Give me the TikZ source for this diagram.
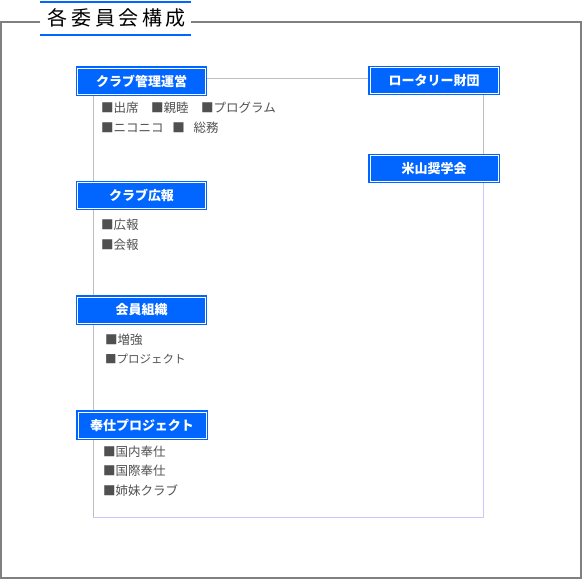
\documentclass[tikz,border=0pt]{standalone}
\usepackage{fontspec}
\newfontfamily\jpfont{Noto Sans CJK JP}
\usetikzlibrary{calc}
\definecolor{kaiblue}{RGB}{0,102,255}
\definecolor{waku}{RGB}{128,128,128}
\definecolor{senhai}{RGB}{190,190,190}
\definecolor{senmura}{RGB}{200,200,250}
\definecolor{moji}{RGB}{80,80,80}
\tikzset{
  iinkai/.style={draw=kaiblue,double=white,double distance=0.9pt,line width=1.1pt,
    fill=kaiblue,minimum width=128pt,minimum height=26pt,inner sep=0pt,
    text=white,font=\jpfont\bfseries\fontsize{13}{15}\selectfont},
  koumoku/.style={anchor=west,inner sep=0pt,text=moji,font=\jpfont\fontsize{12.5}{14}\selectfont}
}
\begin{document}
\begin{tikzpicture}[x=1pt,y=-1pt]
            \useasboundingbox(0,0)rectangle(582,579);
            %外枠
            \coordinate(W1)at(40,22);
            \coordinate(W2)at(191,22);
            \path[draw=waku,line width=1.4pt](W1)to(1,22)to(1,578)to(581,578)to(581,22)to(W2);
            %見出し
            \node[font=\jpfont\fontsize{20}{22}\selectfont\addfontfeature{LetterSpace=18},inner sep=0pt](midashi)at(117,18){各委員会構成};
            \path[draw=kaiblue,line width=2pt](40,1.5)to(191,1.5);
            \path[draw=kaiblue,line width=2pt](40,34.5)to(191,34.5);
            %内側の線
            \coordinate(L1)at(93,95);
            \coordinate(L2)at(93,517);
            \coordinate(R1)at(483,517);
            \coordinate(R2)at(483,183);
            \coordinate(R3)at(483,95);
            \path[draw=senhai,line width=1pt](206,78)to(369,78);
            \path[draw=senhai,line width=1pt](L1)to(L2);
            \path[draw=senmura,line width=1pt](L2)to(R1)to(R2);
            \path[draw=senhai,line width=1pt](R3)to(483,154);
            %委員会
            \node[iinkai](kanri)at(141.5,81){クラブ管理運営};
            \node[iinkai](zaidan)at(434,80.5){ロータリー財団};
            \node[iinkai](yoneyama)at(434,168.5){米山奨学会};
            \node[iinkai](kouhou)at(141.5,195.5){クラブ広報};
            \node[iinkai](soshiki)at(141.5,310){会員組織};
            \node[iinkai](houshi)at(142,425){奉仕プロジェクト};
            %項目
            \node[koumoku](k1)at(101,108){■出席\hspace{1em}■親睦\hspace{1em}■プログラム};
            \node[koumoku](k2)at(101,128){■ニコニコ\hspace{0.7em}■\hspace{0.7em}総務};
            \node[koumoku](k3)at(101,225){■広報};
            \node[koumoku](k4)at(101,245){■会報};
            \node[koumoku](k5)at(105,340){■増強};
            \node[koumoku,font=\jpfont\fontsize{11.5}{13}\selectfont](k6)at(105,359){■プロジェクト};
            \node[koumoku](k7)at(103,452){■国内奉仕};
            \node[koumoku](k8)at(103,471){■国際奉仕};
            \node[koumoku](k9)at(103,491){■姉妹クラブ};
        \end{tikzpicture}
\end{document}
